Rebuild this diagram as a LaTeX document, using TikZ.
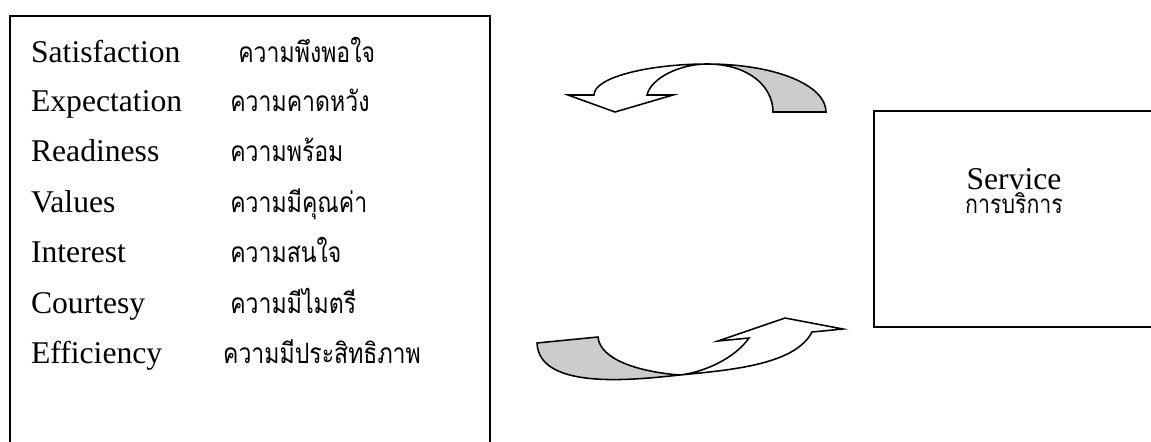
\documentclass[tikz,border=0pt]{standalone}
\usepackage{fontspec}
\setmainfont{Liberation Serif}
\newfontfamily\thaifont[Script=Thai,FakeStretch=0.82]{Loma}
\usepackage{tikz}

\tikzset{
  eng/.style={anchor=base west,inner sep=0pt,font=\fontsize{22.5}{27}\selectfont},
  thai/.style={anchor=base west,inner sep=0pt,font=\thaifont\fontsize{20}{24}\selectfont},
  frame/.style={line width=1.4pt},
  band/.style={line width=1.1pt,line join=miter},
}

\begin{document}
\begin{tikzpicture}
  \useasboundingbox (0,0) rectangle (28.775,-11.025);
  % boxes, both cut off by the page edge
  \draw[frame] (.24,-11.2) |- (12.25,-.39) -- (12.25,-11.2);
  \draw[frame] (29,-2.77) -| (21.85,-8.17) -- (29,-8.17);

  % list of qualities
  \node[eng] (sat) at (.77,-1.5675) {Satisfaction};
  \node[eng] (exp) at (.77,-2.7925) {Expectation};
  \node[eng] (rea) at (.77,-4.0425) {Readiness};
  \node[eng] (val) at (.77,-5.3) {Values};
  \node[eng] (int) at (.77,-6.5675) {Interest};
  \node[eng] (cou) at (.77,-7.825) {Courtesy};
  \node[eng] (eff) at (.77,-9.075) {Efficiency};
  \node[thai] (satth) at (5.95,-1.5675) {ความพึงพอใจ};
  \node[thai] (expth) at (5.75,-2.7925) {ความคาดหวัง};
  \node[thai] (reath) at (5.75,-4.0425) {ความพร้อม};
  \node[thai] (valth) at (5.75,-5.3) {ความมีคุณค่า};
  \node[thai] (intth) at (5.75,-6.5675) {ความสนใจ};
  \node[thai] (couth) at (5.75,-7.825) {ความมีไมตรี};
  \node[thai] (effth) at (5.57,-9.075) {ความมีประสิทธิภาพ};

  % service box text
  \node[eng,anchor=base] (serv) at (25.35,-4.73) {Service};
  \node[thai,anchor=base,font=\thaifont\fontsize{18.5}{22}\selectfont] (servth) at (25.35,-5.34) {การบริการ};

  % upper curved arrow, back side
  \draw[band,fill=gray!40] (17.675,-1.6) .. controls (19.375,-1.6) and (20.65,-2.125) .. (20.65,-2.8)
    -- (19.325,-2.8) .. controls (19.325,-2.15) and (18.7,-1.6) .. (17.675,-1.6) -- cycle;
  % upper curved arrow, front side and head
  \draw[band,fill=white] (14.85,-2.375) .. controls (14.85,-1.925) and (16.25,-1.6) .. (17.675,-1.6)
    .. controls (17,-1.6) and (16.275,-1.95) .. (16.175,-2.375)
    -- (16.825,-2.375) -- (15.375,-2.8) -- (14.2,-2.375) -- cycle;

  % lower curved arrow, back side
  \draw[band,fill=gray!40] (13.425,-8.575) -- (14.95,-8.425)
    .. controls (15,-9) and (16,-9.3) .. (17,-9.375)
    .. controls (16,-9.475) and (13.475,-9.8) .. (13.425,-8.575) -- cycle;
  % lower curved arrow, front side and head
  \draw[band,fill=white] (17,-9.375) .. controls (18.25,-9.25) and (19.875,-9.125) .. (20.3,-8.3)
    -- (21.075,-8.225) -- (19.625,-7.95) -- (17.95,-8.525) -- (18.725,-8.45)
    .. controls (18.375,-8.95) and (17.625,-9.3) .. (17,-9.375) -- cycle;
\end{tikzpicture}
\end{document}
